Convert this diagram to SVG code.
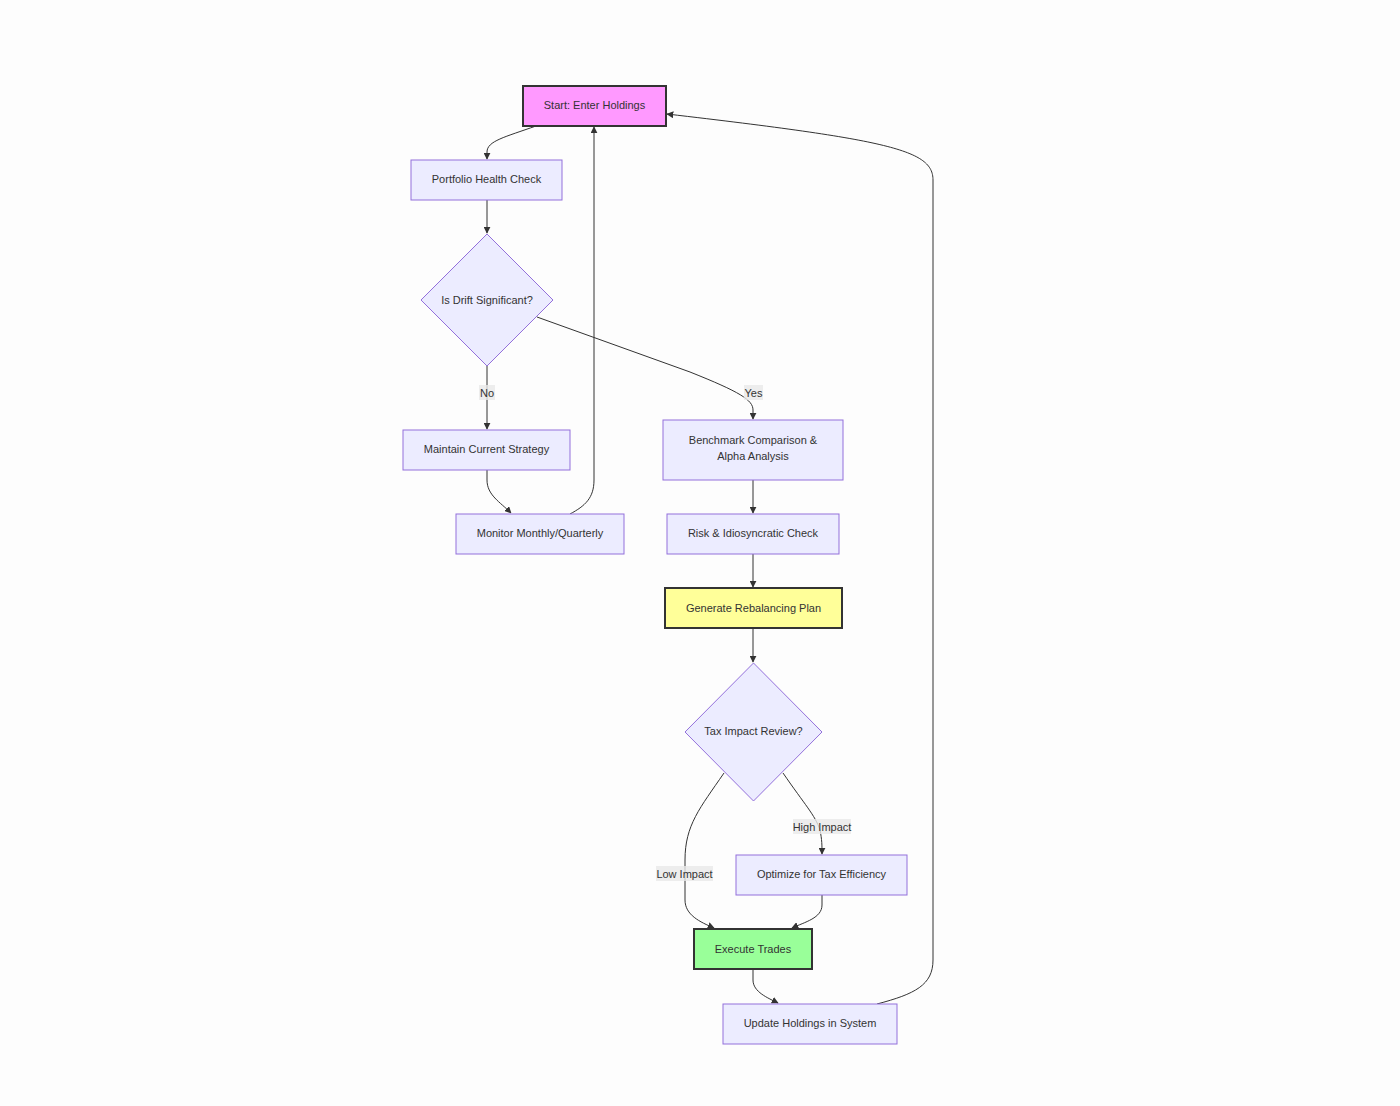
<svg xmlns="http://www.w3.org/2000/svg" width="1400" height="1106" viewBox="0 0 1400 1106">
<defs>
<marker id="arr" viewBox="0 0 10 10" refX="9" refY="5" markerWidth="7" markerHeight="7" markerUnits="userSpaceOnUse" orient="auto">
<path d="M0,0 L10,5 L0,10 z" fill="#333"/>
</marker>
<style>
.n{fill:#ececff;stroke:#9370db;stroke-width:1}
.k{stroke:#333;stroke-width:2}
.t{font-family:"Liberation Sans",Arial,sans-serif;font-size:11px;fill:#333;text-anchor:middle;dominant-baseline:central}
.e{fill:none;stroke:#333;stroke-width:1}
.lb{fill:#e8e8e8;opacity:0.8}
</style>
</defs>
<rect width="1400" height="1106" fill="#fdfdfd"/>
<g id="edges">
<path class="e" d="M536,126 C505,137 487,141 487,152 L487,159" marker-end="url(#arr)"/>
<path class="e" d="M487,200 L487,233" marker-end="url(#arr)"/>
<path class="e" d="M487,366 L487,429" marker-end="url(#arr)"/>
<path class="e" d="M537,317 L690,372 C740,392 753,400 753,410 L753,419" marker-end="url(#arr)"/>
<path class="e" d="M487,470 L487,480 C487,495 500,502 511,513" marker-end="url(#arr)"/>
<path class="e" d="M570,514 C585,506 594,498 594,480 L594,127" marker-end="url(#arr)"/>
<path class="e" d="M753,480 L753,513" marker-end="url(#arr)"/>
<path class="e" d="M753,554 L753,587" marker-end="url(#arr)"/>
<path class="e" d="M753,628 L753,662" marker-end="url(#arr)"/>
<path class="e" d="M724,773 C700,808 685,825 685,860 L685,900 C685,915 700,922 714,928" marker-end="url(#arr)"/>
<path class="e" d="M783,773 C805,805 815,815 820,830 C822,840 822,845 822,854" marker-end="url(#arr)"/>
<path class="e" d="M822,895 L822,905 C822,918 805,922 792,928" marker-end="url(#arr)"/>
<path class="e" d="M753,969 L753,980 C753,992 768,998 778,1003" marker-end="url(#arr)"/>
<path class="e" d="M877,1004 C915,994 933,985 933,960 L933,180 C933,150 890,140 667,114" marker-end="url(#arr)"/>
</g>
<g id="edge-labels">
<rect class="lb" x="479" y="385" width="16" height="15"/>
<text class="t" x="487" y="392.5">No</text>
<rect class="lb" x="744" y="385" width="19" height="15"/>
<text class="t" x="753.5" y="392.5">Yes</text>
<rect class="lb" x="656" y="866" width="57" height="15"/>
<text class="t" x="684.5" y="873.5">Low Impact</text>
<rect class="lb" x="793" y="819" width="58" height="15"/>
<text class="t" x="822" y="826.5">High Impact</text>
</g>
<g id="start"><rect x="523" y="86" width="143" height="40" fill="#ff99ff" class="k"/><text class="t" x="594.5" y="105">Start: Enter Holdings</text></g>
<g id="health"><rect class="n" x="411" y="160" width="151" height="40"/><text class="t" x="486.5" y="179">Portfolio Health Check</text></g>
<g id="drift"><polygon class="n" points="487,234 553,300 487,366 421,300"/><text class="t" x="487" y="299.5">Is Drift Significant?</text></g>
<g id="maintain"><rect class="n" x="403" y="430" width="167" height="40"/><text class="t" x="486.5" y="449">Maintain Current Strategy</text></g>
<g id="monitor"><rect class="n" x="456" y="514" width="168" height="40"/><text class="t" x="540" y="533">Monitor Monthly/Quarterly</text></g>
<g id="benchmark"><rect class="n" x="663" y="420" width="180" height="60"/><text class="t" x="753" y="439.5">Benchmark Comparison &amp;</text><text class="t" x="753" y="456">Alpha Analysis</text></g>
<g id="risk"><rect class="n" x="667" y="514" width="172" height="40"/><text class="t" x="753" y="533">Risk &amp; Idiosyncratic Check</text></g>
<g id="generate"><rect x="665" y="588" width="177" height="40" fill="#ffff99" class="k"/><text class="t" x="753.5" y="607.5">Generate Rebalancing Plan</text></g>
<g id="tax"><polygon class="n" points="753.5,663 822,732 753.5,801 685,732"/><text class="t" x="753.5" y="731">Tax Impact Review?</text></g>
<g id="optimize"><rect class="n" x="736" y="855" width="171" height="40"/><text class="t" x="821.5" y="874">Optimize for Tax Efficiency</text></g>
<g id="execute"><rect x="694" y="929" width="118" height="40" fill="#99ff99" class="k"/><text class="t" x="753" y="948.5">Execute Trades</text></g>
<g id="update"><rect class="n" x="723" y="1004" width="174" height="40"/><text class="t" x="810" y="1023">Update Holdings in System</text></g>
</svg>
